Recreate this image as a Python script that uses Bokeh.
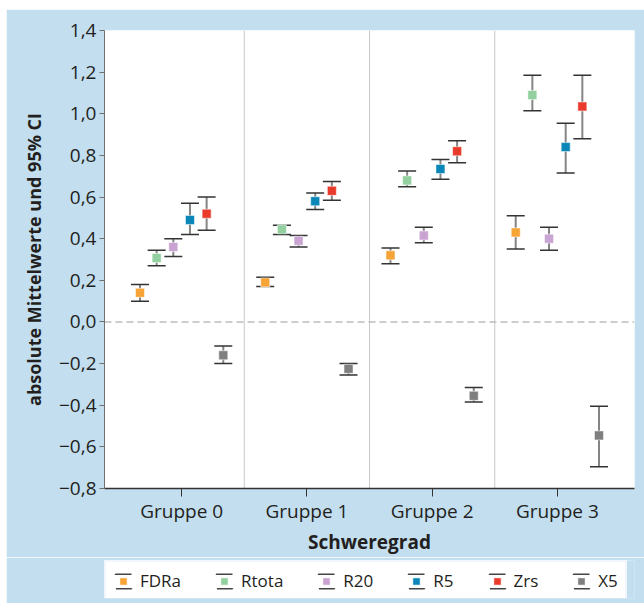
from bokeh.plotting import figure
from bokeh.layouts import column
from bokeh.models import FixedTicker, Span, Legend, LegendItem, Range1d
from bokeh.embed import file_html
from bokeh.resources import INLINE

# ---- data ----
groups = ["Gruppe 0", "Gruppe 1", "Gruppe 2", "Gruppe 3"]
series = ["FDRa", "Rtota", "R20", "R5", "Zrs", "X5"]
colors = ["#f7a437", "#92d09f", "#c9a3d2", "#0a86b8", "#ea3a2c", "#7f7f80"]

mean_FDRa = [0.14, 0.19, 0.32, 0.43]
lo_FDRa = [0.10, 0.17, 0.28, 0.35]
hi_FDRa = [0.18, 0.215, 0.355, 0.51]

mean_Rtota = [0.307, 0.445, 0.68, 1.09]
lo_Rtota = [0.27, 0.42, 0.65, 1.015]
hi_Rtota = [0.345, 0.465, 0.725, 1.185]

mean_R20 = [0.36, 0.39, 0.415, 0.40]
lo_R20 = [0.315, 0.36, 0.38, 0.345]
hi_R20 = [0.40, 0.415, 0.455, 0.455]

mean_R5 = [0.49, 0.58, 0.735, 0.84]
lo_R5 = [0.42, 0.54, 0.685, 0.715]
hi_R5 = [0.57, 0.62, 0.78, 0.955]

mean_Zrs = [0.52, 0.63, 0.82, 1.035]
lo_Zrs = [0.44, 0.585, 0.765, 0.88]
hi_Zrs = [0.60, 0.675, 0.87, 1.185]

mean_X5 = [-0.16, -0.225, -0.355, -0.545]
lo_X5 = [-0.20, -0.255, -0.385, -0.695]
hi_X5 = [-0.115, -0.20, -0.315, -0.405]

y_ticks = [-0.8, -0.6, -0.4, -0.2, 0.0, 0.2, 0.4, 0.6, 0.8, 1.0, 1.2, 1.4]
y_tick_labels = ["\u22120,8", "\u22120,6", "\u22120,4", "\u22120,2", "0,0", "0,2",
                 "0,4", "0,6", "0,8", "1,0", "1,2", "1,4"]

means = [mean_FDRa, mean_Rtota, mean_R20, mean_R5, mean_Zrs, mean_X5]
lows = [lo_FDRa, lo_Rtota, lo_R20, lo_R5, lo_Zrs, lo_X5]
highs = [hi_FDRa, hi_Rtota, hi_R20, hi_R5, hi_Zrs, hi_X5]

# ---- style ----
BLUE = "#c2deef"
TEXT = "#231f20"
FONT = "Open Sans"
slot = 0.133
NAN = float("nan")

p = figure(width=638, height=548,
           x_range=Range1d(-0.616, len(groups) - 1 + 0.616),
           y_range=Range1d(-0.8, 1.4),
           output_backend="svg", toolbar_location=None,
           min_border_left=98, min_border_top=21, min_border_right=10,
           min_border_bottom=68,
           background_fill_color="white", border_fill_color=BLUE,
           outline_line_color=None, margin=(9, 0, 0, 6))
p.xgrid.visible = False
p.ygrid.visible = False

for b in range(len(groups) - 1):
    p.add_layout(Span(location=b + 0.5, dimension="height", line_color="#c8c8c8",
                      line_width=1, level="underlay"))
p.add_layout(Span(location=0, dimension="width", line_color="#bdbdbd",
                  line_dash="7 4", line_width=1.5, level="underlay"))

n = len(series)
for j, name in enumerate(series):
    xs = [g + (j - (n - 1) / 2) * slot for g in range(len(groups))]
    p.segment(x0=xs, y0=lows[j], x1=xs, y1=highs[j], line_color="#858585", line_width=2)
    p.scatter(xs, highs[j], marker="dash", size=18, line_color="#333333", line_width=1.5)
    p.scatter(xs, lows[j], marker="dash", size=18, line_color="#333333", line_width=1.5)
    p.scatter(xs, means[j], marker="square", size=9, fill_color=colors[j],
              line_color="white", line_alpha=0.5, line_width=1)

# axes
ya = p.yaxis[0]
ya.ticker = FixedTicker(ticks=y_ticks)
ya.major_label_overrides = dict(zip(y_ticks, y_tick_labels))
ya.axis_label = "absolute Mittelwerte und 95% CI"
ya.axis_line_color = "#707070"
ya.major_tick_line_color = "#707070"
ya.major_tick_out = 5
ya.major_tick_in = 0
ya.minor_tick_line_color = None
ya.major_label_standoff = 3
ya.axis_label_standoff = 10

xa = p.xaxis[0]
xa.ticker = FixedTicker(ticks=list(range(len(groups))))
xa.major_label_overrides = {i: g for i, g in enumerate(groups)}
xa.axis_label = "Schweregrad"
xa.axis_line_color = "#333333"
xa.axis_line_width = 1.5
xa.major_tick_line_color = "#333333"
xa.major_tick_out = 8
xa.major_tick_in = 0
xa.minor_tick_line_color = None
xa.major_label_standoff = 1
xa.axis_label_standoff = 2

for ax in (ya, xa):
    ax.major_label_text_font = FONT
    ax.major_label_text_font_size = "19px"
    ax.major_label_text_color = TEXT
    ax.axis_label_text_font = FONT
    ax.axis_label_text_font_style = "bold"
    ax.axis_label_text_color = TEXT
ya.axis_label_text_font_size = "18px"
xa.axis_label_text_font_size = "19px"

# ---- legend strip (separate figure, legend-only glyphs with NaN data) ----
lg = figure(width=638, height=46, x_range=Range1d(0, 1), y_range=Range1d(0, 1),
            output_backend="svg", toolbar_location=None,
            x_axis_type=None, y_axis_type=None,
            min_border_left=98, min_border_top=3, min_border_right=9,
            min_border_bottom=5,
            background_fill_color=BLUE, border_fill_color=BLUE,
            outline_line_color=None, margin=(0, 0, 0, 6))

items = []
for j, name in enumerate(series):
    caps = lg.quad(left=[NAN], right=[NAN], top=[NAN], bottom=[NAN], fill_color=None,
                   line_color="#444444", line_width=1.5, line_dash="16 14")
    sq = lg.scatter([NAN], [NAN], marker="square", size=9, fill_color=colors[j],
                    line_color="white", line_alpha=0.5, line_width=1)
    items.append(LegendItem(label=name, renderers=[caps, sq]))

legend = Legend(items=items, orientation="horizontal", location="top_left",
                margin=0, padding=7, spacing=33, label_standoff=7,
                glyph_width=20, glyph_height=18,
                label_text_font=FONT, label_text_font_size="17px",
                label_text_color=TEXT,
                background_fill_color="white", background_fill_alpha=1.0,
                border_line_color="#e2eef7", border_line_width=2)
lg.add_layout(legend, "center")

page = column(p, lg, spacing=0)

open("out.html", "w").write(file_html(page, INLINE))
